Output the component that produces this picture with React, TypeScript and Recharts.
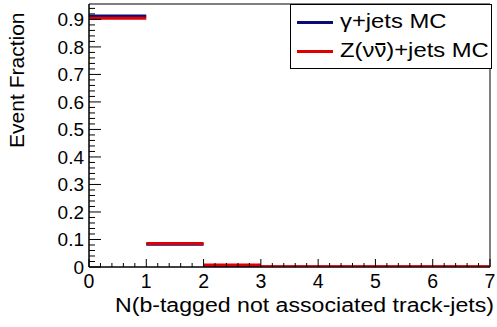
import React from 'react';
import {
  LineChart,
  Line,
  XAxis,
  YAxis,
  ReferenceArea,
  Label,
} from 'recharts';

// bin edges and per-bin event fractions
const binEdges = [0, 1, 2, 3, 4, 5, 6, 7];
const gammaJets = [0.912, 0.083, 0.004, 0, 0, 0, 0];
const zNuNuJets = [0.904, 0.085, 0.007, 0.001, 0.001, 0.001, 0.001];

const xMajor = [0, 1, 2, 3, 4, 5, 6, 7];
const yMajor = [0, 0.1, 0.2, 0.3, 0.4, 0.5, 0.6, 0.7, 0.8, 0.9];
const yMax = 0.956;

const FONT = '"Liberation Sans", Arial, Helvetica, sans-serif';
const BLUE = '#0b0b78';
const RED = '#e00000';

// minor tick positions (axis decoration only)
const xTicks = Array.from({ length: 36 }, (_, i) => Math.round(i * 20) / 100);
const yTicks = Array.from({ length: 48 }, (_, i) => Math.round(i * 2) / 100);

const isMajor = (v: number, list: number[]) => list.some((m) => Math.abs(m - v) < 1e-6);

// histogram bins as separate horizontal segments
const toSteps = (values: number[]) =>
  values.flatMap((v, i) => [
    { x: binEdges[i], v },
    { x: binEdges[i + 1], v },
    { x: binEdges[i + 1], v: null },
  ]);

const XTick = (props: any) => {
  const { x, y, payload } = props;
  const major = isMajor(payload.value, xMajor);
  return (
    <g>
      <line x1={x} x2={x} y1={y} y2={y - (major ? 8 : 4)} stroke="#000" strokeWidth={1} />
      {major && (
        <text x={x} y={y + 20.5} textAnchor="middle" fontSize={19.5} fontFamily={FONT} fill="#000">
          {payload.value}
        </text>
      )}
    </g>
  );
};

const YTick = (props: any) => {
  const { x, y, payload } = props;
  const major = isMajor(payload.value, yMajor);
  return (
    <g>
      <line x1={x} x2={x + (major ? 12 : 6)} y1={y} y2={y} stroke="#000" strokeWidth={1} />
      {major && (
        <text x={x - 5} y={y + 7} textAnchor="end" fontSize={19} fontFamily={FONT} fill="#000">
          {payload.value}
        </text>
      )}
    </g>
  );
};

const legendText: React.CSSProperties = {
  position: 'absolute',
  left: 49,
  lineHeight: '22px',
  whiteSpace: 'nowrap',
  transform: 'scaleX(1.19)',
  transformOrigin: 'left center',
};

export default function App() {
  return (
    <div style={{ position: 'absolute', left: 0, top: 0, width: 497, height: 327, background: '#fff' }}>
      <LineChart
        width={497}
        height={327}
        margin={{ top: 4, right: 7, left: 0, bottom: 0 }}
      >
        <XAxis
          type="number"
          dataKey="x"
          domain={[0, 7]}
          ticks={xTicks}
          interval={0}
          tick={XTick}
          tickLine={false}
          tickSize={0}
          tickMargin={0}
          height={60}
          axisLine={{ stroke: '#000' }}
          allowDuplicatedCategory={false}
        >
          <Label
            content={(p: any) => (
              <text
                x={p.viewBox.x + p.viewBox.width + 4}
                y={p.viewBox.y + 45}
                textAnchor="end"
                fontSize={20}
                fontFamily={FONT}
                fill="#000"
                textLength={379}
                lengthAdjust="spacingAndGlyphs"
              >
                N(b-tagged not associated track-jets)
              </text>
            )}
          />
        </XAxis>
        <YAxis
          type="number"
          domain={[0, yMax]}
          ticks={yTicks}
          interval={0}
          tick={YTick}
          tickLine={false}
          tickSize={0}
          tickMargin={0}
          width={89}
          allowDataOverflow
          axisLine={{ stroke: '#000' }}
        >
          <Label
            content={() => (
              <text
                x={23.5}
                y={12.5}
                transform="rotate(-90, 23.5, 12.5)"
                textAnchor="end"
                fontSize={21}
                fontFamily={FONT}
                fill="#000"
              >
                Event Fraction
              </text>
            )}
          />
        </YAxis>
        <ReferenceArea x1={0} x2={7} y1={0} y2={yMax} fill="none" stroke="#000" strokeWidth={1} ifOverflow="visible" />
        <Line
          data={toSteps(gammaJets)}
          dataKey="v"
          stroke={BLUE}
          strokeWidth={3}
          dot={false}
          connectNulls={false}
          isAnimationActive={false}
        />
        <Line
          data={toSteps(zNuNuJets)}
          dataKey="v"
          stroke={RED}
          strokeWidth={3}
          dot={false}
          connectNulls={false}
          isAnimationActive={false}
        />
      </LineChart>
      <div
        style={{
          position: 'absolute',
          left: 290,
          top: 4,
          width: 202,
          height: 65,
          border: '1px solid #000',
          background: '#fff',
          boxSizing: 'border-box',
          fontFamily: FONT,
          fontSize: 20,
          color: '#000',
        }}
      >
        <div style={{ position: 'absolute', left: 6, top: 16, width: 36, height: 3, background: BLUE }} />
        <div style={{ ...legendText, top: 4.5 }}>γ+jets MC</div>
        <div style={{ position: 'absolute', left: 6, top: 45, width: 36, height: 3, background: RED }} />
        <div style={{ ...legendText, top: 34 }}>
          Z(ν
          <span style={{ position: 'relative' }}>
            ν
            <span style={{ position: 'absolute', left: 1, right: 1, top: 4, height: 1.5, background: '#000' }} />
          </span>
          )+jets MC
        </div>
      </div>
    </div>
  );
}
